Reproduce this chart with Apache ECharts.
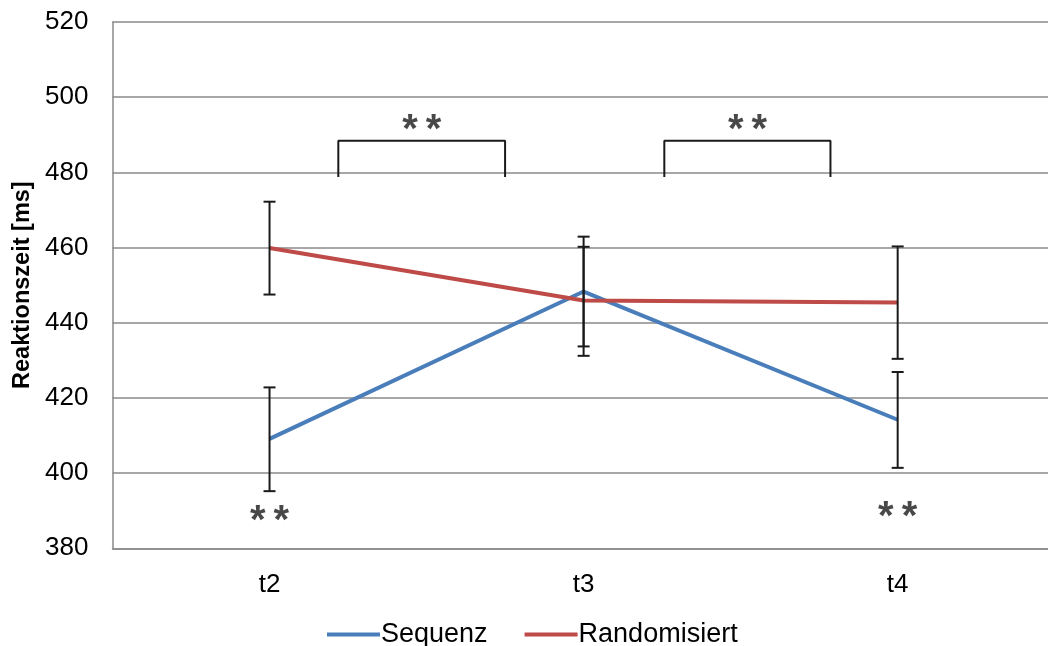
<!DOCTYPE html>
<html>
<head>
<meta charset="utf-8">
<script src="https://cdn.jsdelivr.net/npm/echarts@6/dist/echarts.min.js"></script>
<style>html,body{margin:0;padding:0;background:#fff}#c{width:1048px;height:646px}</style>
</head>
<body>
<div id="c"></div>
<script>
// ---- data ----
var categories = ['t2', 't3', 't4'];
var seqValues  = [409.1, 448.3, 414.2];
var seqLow     = [395.2, 433.7, 401.4];
var seqHigh    = [422.8, 462.9, 426.9];
var randValues = [459.9, 445.9, 445.4];
var randLow    = [447.5, 431.2, 430.4];
var randHigh   = [472.2, 460.2, 460.3];
var yTicks     = [380, 400, 420, 440, 460, 480, 500, 520];
// significance brackets: [x start, x end, y leg bottom, y top] in (category index, ms) units
var brackets   = [[0.219, 0.750, 478.8, 488.4], [1.257, 1.786, 478.8, 488.4]];
// significance marks: [category index, ms]
var starMarks  = [[0.485, 491.0], [1.522, 491.0], [0, 387.0], [2, 388.1]];
var starText   = '*\u2009*';

var FONT = '"Liberation Sans", Arial, sans-serif';
var BLUE = '#4A7EBB', RED = '#BE4B48', GRID = '#8a8a8a';

function errSeries(name, low, high) {
  return {
    type: 'custom', name: name + ' err', xAxisIndex: 0, yAxisIndex: 0, z: 5, silent: true,
    data: categories.map(function (c, i) { return [i, low[i], high[i]]; }),
    renderItem: function (params, api) {
      var lo = api.coord([api.value(0), api.value(1)]);
      var hi = api.coord([api.value(0), api.value(2)]);
      var w = 6;
      var st = { stroke: '#1a1a1a', lineWidth: 2 };
      return { type: 'group', children: [
        { type: 'line', shape: { x1: lo[0], y1: lo[1], x2: hi[0], y2: hi[1] }, style: st },
        { type: 'line', shape: { x1: lo[0] - w, y1: lo[1], x2: lo[0] + w, y2: lo[1] }, style: st },
        { type: 'line', shape: { x1: hi[0] - w, y1: hi[1], x2: hi[0] + w, y2: hi[1] }, style: st }
      ]};
    }
  };
}

var series = [
  { name: 'Sequenz', type: 'line', data: seqValues, symbol: 'none', z: 3,
    lineStyle: { color: BLUE, width: 4 }, itemStyle: { color: BLUE } },
  { name: 'Randomisiert', type: 'line', data: randValues, symbol: 'none', z: 3,
    lineStyle: { color: RED, width: 4 }, itemStyle: { color: RED } },
  errSeries('Sequenz', seqLow, seqHigh),
  errSeries('Randomisiert', randLow, randHigh)
];
brackets.forEach(function (b, k) {
  series.push({
    type: 'line', name: 'bracket' + k, xAxisIndex: 1, yAxisIndex: 0, symbol: 'none', silent: true, z: 4,
    lineStyle: { color: '#1a1a1a', width: 2 },
    data: [[b[0], b[2]], [b[0], b[3]], [b[1], b[3]], [b[1], b[2]]]
  });
});
series.push({
  type: 'scatter', name: 'stars', xAxisIndex: 1, yAxisIndex: 0, symbolSize: 0, silent: true, z: 6,
  data: starMarks,
  label: { show: true, position: 'inside', formatter: starText, color: '#1a1a1a',
           fontFamily: FONT, fontSize: 40, fontWeight: 'bold' }
});

var chart = echarts.init(document.getElementById('c'), null, { renderer: 'canvas' });
chart.setOption({
  animation: false,
  backgroundColor: '#ffffff',
  grid: { left: 112.5, top: 22, right: -6.7, bottom: 97.7, containLabel: false, outerBoundsMode: 'none' },
  legend: {
    data: ['Sequenz', 'Randomisiert'],
    left: 327, top: 621, padding: 0, icon: 'rect', itemWidth: 53, itemHeight: 4, itemGap: 37,
    textStyle: { fontFamily: FONT, fontSize: 27, color: '#000', padding: [0, 0, 0, -4] }
  },
  xAxis: [
    { type: 'category', data: categories, boundaryGap: true,
      axisLine: { show: true, lineStyle: { color: GRID, width: 1.5 } },
      axisTick: { show: false },
      axisLabel: { fontFamily: FONT, fontSize: 26, color: '#000', margin: 24 } },
    { type: 'value', min: -0.5, max: 2.5, show: false }
  ],
  yAxis: {
    type: 'value', min: yTicks[0], max: yTicks[yTicks.length - 1], interval: 20,
    name: 'Reaktionszeit [ms]', nameLocation: 'middle', nameRotate: 90, nameGap: 73,
    nameTextStyle: { fontFamily: FONT, fontSize: 23.5, fontWeight: 'bold', color: '#000' },
    axisLine: { show: true, onZero: false, lineStyle: { color: GRID, width: 1.5 } },
    axisTick: { show: false },
    splitLine: { show: true, lineStyle: { color: GRID, width: 1.5 } },
    axisLabel: { fontFamily: FONT, fontSize: 26, color: '#000', margin: 24 }
  },
  series: series
});
</script>
</body>
</html>
